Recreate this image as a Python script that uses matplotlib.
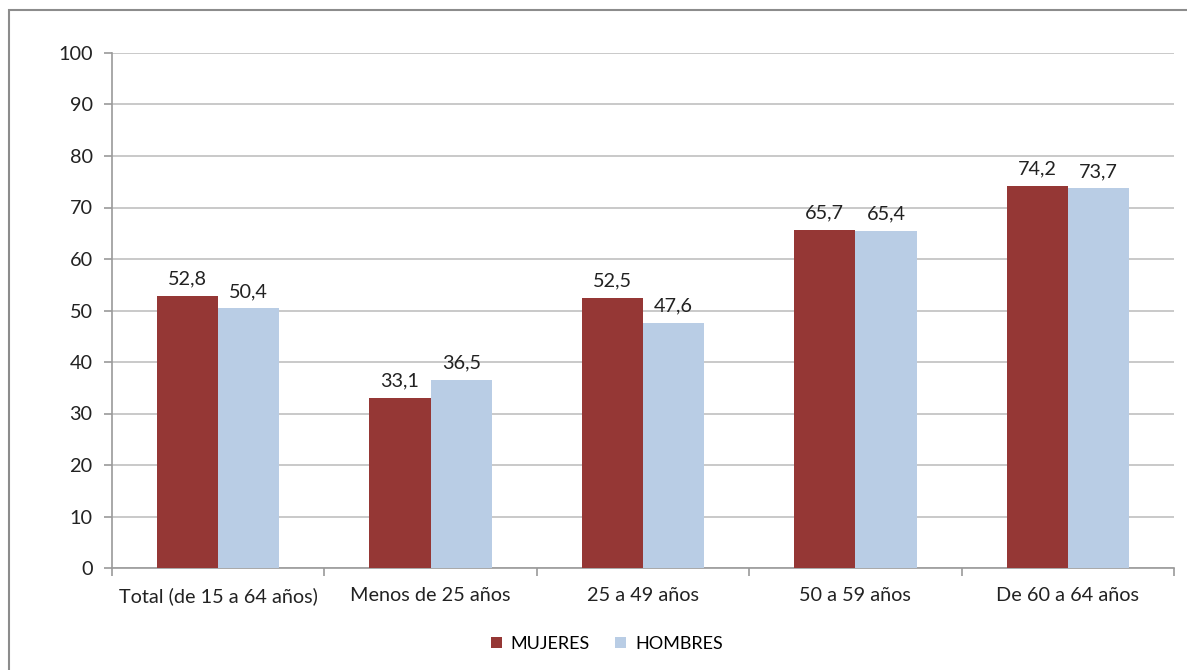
import matplotlib
matplotlib.use("Agg")
import matplotlib.pyplot as plt
import numpy as np
from matplotlib.patches import Rectangle

categories = ["Total (de 15 a 64 años)", "Menos de 25 años", "25 a 49 años", "50 a 59 años", "De 60 a 64 años"]
mujeres = [52.8, 33.1, 52.5, 65.7, 74.2]
hombres = [50.4, 36.5, 47.6, 65.4, 73.7]
series_names = ["MUJERES", "HOMBRES"]
yticks = list(range(0, 101, 10))

plt.rcParams['font.family'] = ['Lato', 'DejaVu Sans']
FS = 14.3
W, H = 1187, 670
fig = plt.figure(figsize=(W/100, H/100), dpi=100)
ax = fig.add_axes([112/W, 1-568/H, (1174-112)/W, (568-53)/H])

# frame around chart (cut off right/bottom)
fig.add_artist(Rectangle((9/W, -0.05), 1.2, 1-10/H+0.05, transform=fig.transFigure,
                         fill=False, edgecolor='#8c8c8c', linewidth=1.5))

x = np.arange(len(categories))
bw = 0.288
c1, c2 = '#953735', '#B9CDE5'
b1 = ax.bar(x - bw/2, mujeres, bw, color=c1, label=series_names[0], zorder=3)
b2 = ax.bar(x + bw/2, hombres, bw, color=c2, label=series_names[1], zorder=3)

for bars, vals in ((b1, mujeres), (b2, hombres)):
    for r, v in zip(bars, vals):
        ax.annotate(f"{v:.1f}".replace('.', ','), (r.get_x() + r.get_width()/2, v),
                    xytext=(0, 6), textcoords='offset points', ha='center', va='bottom',
                    fontsize=FS, color='#222222')

ax.set_xlim(-0.5, len(categories) - 0.5)
ax.set_ylim(0, 100)
ax.set_yticks(yticks)
ax.yaxis.grid(True, color='#c0c0c0', linewidth=1.2, zorder=0)
ax.set_axisbelow(True)
for s in ('top', 'right'):
    ax.spines[s].set_visible(False)
for s in ('left', 'bottom'):
    ax.spines[s].set_color('#9a9a9a')
    ax.spines[s].set_linewidth(1.2)

ax.set_xticks(x)
ax.set_xticklabels(categories, fontsize=FS, color='#222222')
ax.tick_params(axis='x', length=0, pad=14)
ax.set_xticks(np.arange(-0.5, len(categories)), minor=True)
ax.tick_params(axis='x', which='minor', length=6, color='#9a9a9a', width=1.2)
ax.tick_params(axis='y', length=6, color='#9a9a9a', width=1.2, labelsize=FS, labelcolor='#222222', pad=8)

fig.legend(handles=[b1, b2], labels=series_names, loc='center', bbox_to_anchor=(607/W, 1-644/H),
           ncol=2, frameon=False, fontsize=13, handlelength=0.6, handleheight=0.6,
           handletextpad=0.5, columnspacing=1.4)

fig.savefig('out.png', dpi=100)
